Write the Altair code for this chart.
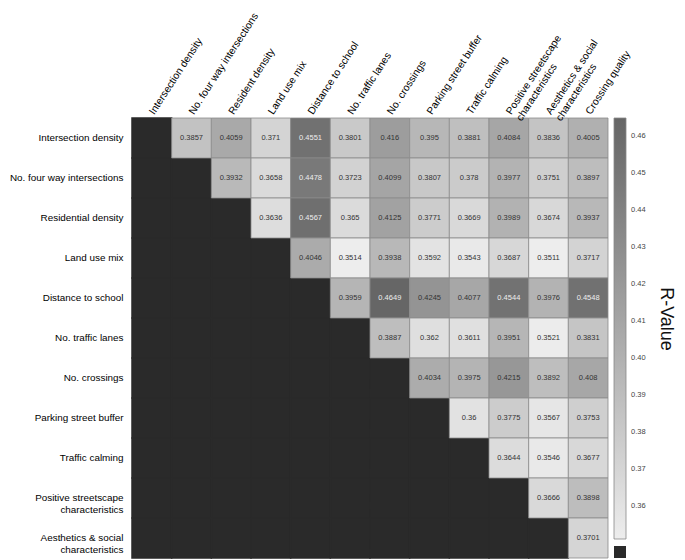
import altair as alt
import pandas as pd

FONT = "Liberation Sans"
NB = "\u00a0"

ROWS = [
    "Intersection density",
    "No. four way intersections",
    "Residential density",
    "Land use mix",
    "Distance to school",
    "No. traffic lanes",
    "No. crossings",
    "Parking street buffer",
    "Traffic calming",
    "Positive streetscape characteristics",
    "Aesthetics & social characteristics",
]
COLS = [
    "Intersection density",
    "No. four way intersections",
    "Resident density",
    "Land use mix",
    "Distance to school",
    "No. traffic lanes",
    "No. crossings",
    "Parking street buffer",
    "Traffic calming",
    "Positive streetscape characteristics",
    "Aesthetics & social characteristics",
    "Crossing quality",
]

# each row's values start at the column right after its own index
R_INTERSECTION = [0.3857, 0.4059, 0.371, 0.4551, 0.3801, 0.416, 0.395, 0.3881, 0.4084, 0.3836, 0.4005]
R_FOUR_WAY = [0.3932, 0.3658, 0.4478, 0.3723, 0.4099, 0.3807, 0.378, 0.3977, 0.3751, 0.3897]
R_RESIDENTIAL = [0.3636, 0.4567, 0.365, 0.4125, 0.3771, 0.3669, 0.3989, 0.3674, 0.3937]
R_LAND_USE = [0.4046, 0.3514, 0.3938, 0.3592, 0.3543, 0.3687, 0.3511, 0.3717]
R_DISTANCE = [0.3959, 0.4649, 0.4245, 0.4077, 0.4544, 0.3976, 0.4548]
R_LANES = [0.3887, 0.362, 0.3611, 0.3951, 0.3521, 0.3831]
R_CROSSINGS = [0.4034, 0.3975, 0.4215, 0.3892, 0.408]
R_PARKING = [0.36, 0.3775, 0.3567, 0.3753]
R_CALMING = [0.3644, 0.3546, 0.3677]
R_POSITIVE = [0.3666, 0.3898]
R_AESTHETICS = [0.3701]

ROW_VALUES = [R_INTERSECTION, R_FOUR_WAY, R_RESIDENTIAL, R_LAND_USE, R_DISTANCE,
              R_LANES, R_CROSSINGS, R_PARKING, R_CALMING, R_POSITIVE, R_AESTHETICS]

LEGEND_TICKS = [0.36, 0.37, 0.38, 0.39, 0.40, 0.41, 0.42, 0.43, 0.44, 0.45, 0.46]
LEGEND_TITLE = "R-Value"

cells = []
blank = []
for i, r in enumerate(ROWS):
    for k, v in enumerate(ROW_VALUES[i]):
        cells.append({"row": r, "col": COLS[i + 1 + k], "value": v})
    for j in range(i + 1):
        blank.append({"row": r, "col": COLS[j], "lbl": " "})
cells_df = pd.DataFrame(cells)
blank_df = pd.DataFrame(blank)

vmin = min(min(v) for v in ROW_VALUES)
vmax = max(max(v) for v in ROW_VALUES)

x_expr = (
    "datum.label == 'Positive streetscape characteristics' ? ['Positive streetscape', '" + NB * 9 + "characteristics'] : "
    "datum.label == 'Aesthetics & social characteristics' ? ['Aesthetics & social', '" + NB * 7 + "characteristics'] : datum.label"
)
y_expr = (
    "datum.label == 'Positive streetscape characteristics' ? ['Positive streetscape', 'characteristics" + NB * 5 + "'] : "
    "datum.label == 'Aesthetics & social characteristics' ? ['Aesthetics & social', 'characteristics" + NB * 4 + "'] : datum.label"
)

X = alt.X(
    "col:N",
    scale=alt.Scale(domain=COLS, paddingInner=0, paddingOuter=0),
    axis=alt.Axis(
        orient="top", labelAngle=-57, labelAlign="left", labelBaseline="middle",
        labelPadding=5, labelFontSize=10.3, labelFont=FONT, labelColor="#000",
        domain=False, ticks=False, labelExpr=x_expr, labelLimit=0,
        labelLineHeight=12, title=None,
    ),
)
Y = alt.Y(
    "row:N",
    scale=alt.Scale(domain=ROWS, paddingInner=0, paddingOuter=0),
    axis=alt.Axis(
        labelFontSize=9.9, labelFont=FONT, labelColor="#000", labelPadding=9,
        domain=False, ticks=False, labelExpr=y_expr, labelLimit=0,
        labelLineHeight=12.4, title=None,
    ),
)

black = alt.Chart(blank_df).mark_rect(stroke="#2a2a2a", strokeWidth=1.5).encode(
    x=X, y=Y,
    color=alt.Color(
        "lbl:N",
        scale=alt.Scale(range=["#2a2a2a"]),
        legend=alt.Legend(
            orient="none", legendX=482, legendY=428, symbolType="square",
            symbolSize=144, symbolStrokeWidth=0, labelExpr="''", title=None,
        ),
    ),
)

heat = alt.Chart(cells_df).mark_rect(stroke="#8c8c8c", strokeWidth=0.8).encode(
    x=X, y=Y,
    color=alt.Color(
        "value:Q",
        scale=alt.Scale(domain=[vmin, vmax], range=["#ededed", "#666666"]),
        legend=alt.Legend(
            orient="none", legendX=482, legendY=0, direction="vertical",
            gradientLength=421, gradientThickness=12, values=LEGEND_TICKS,
            labelFontSize=7.5, labelFont=FONT, labelColor="#444", labelOffset=5,
            title=None, gradientStrokeColor="#888", gradientStrokeWidth=0.8,
            labelOverlap=False,
        ),
    ),
)

labels = alt.Chart(cells_df).mark_text(fontSize=7.5, font=FONT).encode(
    x=X, y=Y,
    text=alt.Text("value:Q", format=".4~f"),
    color=alt.condition(alt.datum.value > 0.44, alt.value("#eeeeee"), alt.value("#333333")),
)

title = alt.Chart(pd.DataFrame({"t": [LEGEND_TITLE]})).mark_text(
    angle=90, fontSize=18, font=FONT, color="#111", align="center", baseline="middle"
).encode(
    text="t:N", x=alt.value(534), y=alt.value(201)
)

chart = (
    alt.layer(black, heat, labels, title)
    .resolve_scale(color="independent")
    .properties(
        width=476, height=440,
        autosize=alt.AutoSizeParams(type="none"),
        padding={"left": 124, "top": 110, "right": 69, "bottom": 2},
    )
    .configure_view(stroke=None)
)

chart.save("out.html", embed_options={"renderer": "svg", "actions": False})
